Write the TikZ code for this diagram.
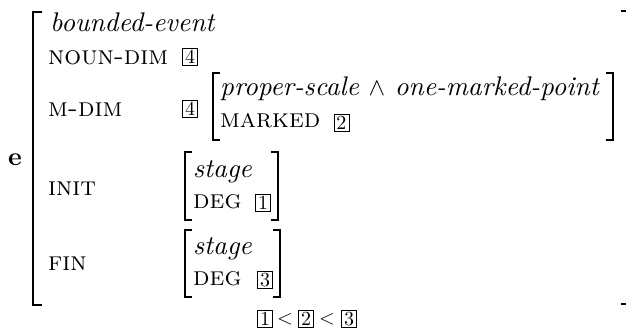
\documentclass[tikz,border=0pt]{standalone}
\usepackage{fontspec}
\setmainfont{lmroman10-regular.otf}[
  ItalicFont=lmroman10-italic.otf,
  BoldFont=lmroman10-bold.otf,
  SmallCapsFont=lmromancaps10-regular.otf]
\begin{document}
\begin{tikzpicture}[x=1pt,y=-1pt,
  it/.style={inner sep=0pt,anchor=base west,font=\fontsize{27}{30}\selectfont\itshape},
  sc/.style={inner sep=0pt,anchor=base west,font=\fontsize{26.5}{30}\selectfont\scshape},
  tag/.style={draw,line width=0.8pt,inner sep=0pt,minimum width=15pt,minimum height=17pt,font=\fontsize{20}{20}\selectfont},
  brk/.style={line width=2pt},
  obrk/.style={line width=2.6pt}]
\useasboundingbox (0,0) rectangle (626,334);
% outer bracket
\draw[obrk] (42,12) -- (33,12) -- (33,305) -- (42,305);
\begin{scope}
\clip (0,0) rectangle (626,334);
\draw[obrk] (621,11) -- (630,11) -- (630,304) -- (621,304);
\end{scope}
\node[inner sep=0pt,anchor=base west,font=\fontsize{26}{30}\selectfont\bfseries] (e) at (8,165) {e};
\node[it] (type) at (50,32) {bounded-event};
\node[sc] (noun) at (48,65) {noun-dim};
\node[tag] (t4a) at (190,57) {4};
\node[sc] (mdim) at (48,117) {m-dim};
\node[tag] (t4b) at (190,109) {4};
% M-DIM value
\draw[brk] (220,73) -- (213,73) -- (213,140) -- (220,140);
\draw[brk] (606,73) -- (613,73) -- (613,140) -- (606,140);
\node[it] (ps) at (220,96) {proper-scale $\wedge$ one-marked-point};
\node[sc] (marked) at (220,128) {marked};
\node[tag,anchor=west] (t2) at ([xshift=13pt,yshift=5pt]marked.base east) {2};
% INIT
\node[sc] (init) at (48,195) {init};
\draw[brk] (192,152) -- (185,152) -- (185,220) -- (192,220);
\draw[brk] (271,152) -- (278,152) -- (278,220) -- (271,220);
\node[it] (st1) at (193,177) {stage};
\node[sc] (deg1) at (193,208) {deg};
\node[tag] (t1) at (263,203) {1};
% FIN
\node[sc] (fin) at (48,270) {fin};
\draw[brk] (192,230) -- (185,230) -- (185,297) -- (192,297);
\draw[brk] (273,230) -- (280,230) -- (280,297) -- (273,297);
\node[it] (st2) at (193,254) {stage};
\node[sc] (deg2) at (193,285) {deg};
\node[tag] (t3) at (265,280) {3};
% constraint
\node[tag] (c1) at (265,319) {1};
\node[font=\fontsize{22}{22}\selectfont,inner sep=0pt] (lt1) at (285,319) {$<$};
\node[tag] (c2) at (306,319) {2};
\node[font=\fontsize{22}{22}\selectfont,inner sep=0pt] (lt2) at (327,319) {$<$};
\node[tag] (c3) at (349,319) {3};
\end{tikzpicture}
\end{document}
